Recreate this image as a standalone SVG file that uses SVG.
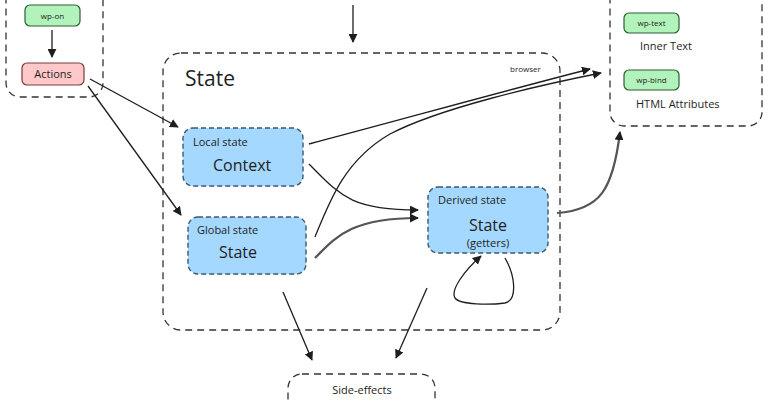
<svg xmlns="http://www.w3.org/2000/svg" width="768" height="401" viewBox="0 0 768 401">
<style>
.bg{fill:#ffffff}
.group{fill:none;stroke:#333;stroke-width:1.3;stroke-dasharray:7 5}
.blue{fill:#a5d8ff;stroke:#3a5a70;stroke-width:1.4;stroke-dasharray:5 3}
.green{fill:#b2f2bb;stroke:#2b5e35;stroke-width:1.2}
.pink{fill:#ffc9c9;stroke:#7a3a3a;stroke-width:1.2}
text{font-family:"Open Sans","Liberation Sans",sans-serif;fill:#1e1e1e}
.tiny{font-size:8px}
.small{font-size:11px}
.big{font-size:16px}
.title{font-size:21px}
.con{fill:none;stroke:#1e1e1e;stroke-width:1.3}
.dbl{fill:none;stroke:#555;stroke-width:2.2}
</style>
<defs>
<marker id="ah" viewBox="0 0 10 10" refX="9" refY="5" markerWidth="9" markerHeight="9" markerUnits="userSpaceOnUse" orient="auto">
<path d="M0,0 L10,5 L0,10 z" fill="#1e1e1e"/>
</marker>
</defs>
<rect class="bg" width="768" height="401"/>

<g id="directives">
<rect class="group" x="6" y="-20" width="97" height="117" rx="14"/>
<g id="wp-on"><rect class="green" x="25" y="5" width="55" height="21" rx="5"/><text class="tiny" x="52.5" y="18.5" text-anchor="middle">wp-on</text></g>
<g id="actions"><rect class="pink" x="22" y="63" width="62" height="22" rx="5"/><text class="small" x="53" y="78" text-anchor="middle">Actions</text></g>
</g>

<g id="state-container">
<rect class="group" x="163" y="53" width="397" height="277" rx="18"/>
<text class="title" x="185" y="86">State</text>
<text class="tiny" x="510" y="72">browser</text>
</g>

<g id="local-state">
<rect class="blue" x="183" y="128" width="120" height="58" rx="10"/>
<text class="small" x="193" y="146">Local state</text>
<text class="big" x="213" y="171">Context</text>
</g>

<g id="global-state">
<rect class="blue" x="188" y="217" width="118" height="57" rx="10"/>
<text class="small" x="197" y="234">Global state</text>
<text class="big" x="219" y="258">State</text>
</g>

<g id="derived-state">
<rect class="blue" x="428" y="187" width="120" height="66" rx="10"/>
<text class="small" x="438" y="204">Derived state</text>
<text class="big" x="488" y="231" text-anchor="middle">State</text>
<text class="small" x="488" y="247" text-anchor="middle">(getters)</text>
</g>

<g id="outputs">
<rect class="group" x="610" y="-20" width="152" height="146" rx="14"/>
<g id="wp-text"><rect class="green" x="624" y="13" width="55" height="20" rx="5"/><text class="tiny" x="651.5" y="26" text-anchor="middle">wp-text</text></g>
<text class="small" x="640" y="50">Inner Text</text>
<g id="wp-bind"><rect class="green" x="624" y="70" width="55" height="20" rx="5"/><text class="tiny" x="651.5" y="83" text-anchor="middle">wp-bind</text></g>
<text class="small" x="636" y="108">HTML Attributes</text>
</g>

<g id="side-effects">
<rect class="group" x="288" y="374" width="147" height="50" rx="14"/>
<text class="small" x="362" y="394" text-anchor="middle">Side-effects</text>
</g>

<g id="connectors">
<path class="con" d="M353,5 L353,42" marker-end="url(#ah)"/>
<path class="con" d="M52,30 L52,57" marker-end="url(#ah)"/>
<path class="con" d="M90,79 L178,127" marker-end="url(#ah)"/>
<path class="con" d="M88,86 L181,215" marker-end="url(#ah)"/>
<path class="con" d="M309,144 C400,120 500,92 590,69" marker-end="url(#ah)"/>
<path class="con" d="M315,237 C330,200 345,160 390,134 C440,108 540,85 601,73" marker-end="url(#ah)"/>
<path class="con" d="M309,164 C340,195 350,210 418,210" marker-end="url(#ah)"/>
<path class="dbl" d="M315,258 C335,238 350,218 418,218" marker-end="url(#ah)"/>
<path class="dbl" d="M557,213 C600,210 613,190 620,132" marker-end="url(#ah)"/>
<path class="con" d="M505,258 C515,275 518,300 505,303 C490,305 460,305 455,298 C450,290 465,270 481,256" marker-end="url(#ah)"/>
<path class="con" d="M283,292 L312,360" marker-end="url(#ah)"/>
<path class="con" d="M427,288 L396,358" marker-end="url(#ah)"/>
</g>
</svg>
